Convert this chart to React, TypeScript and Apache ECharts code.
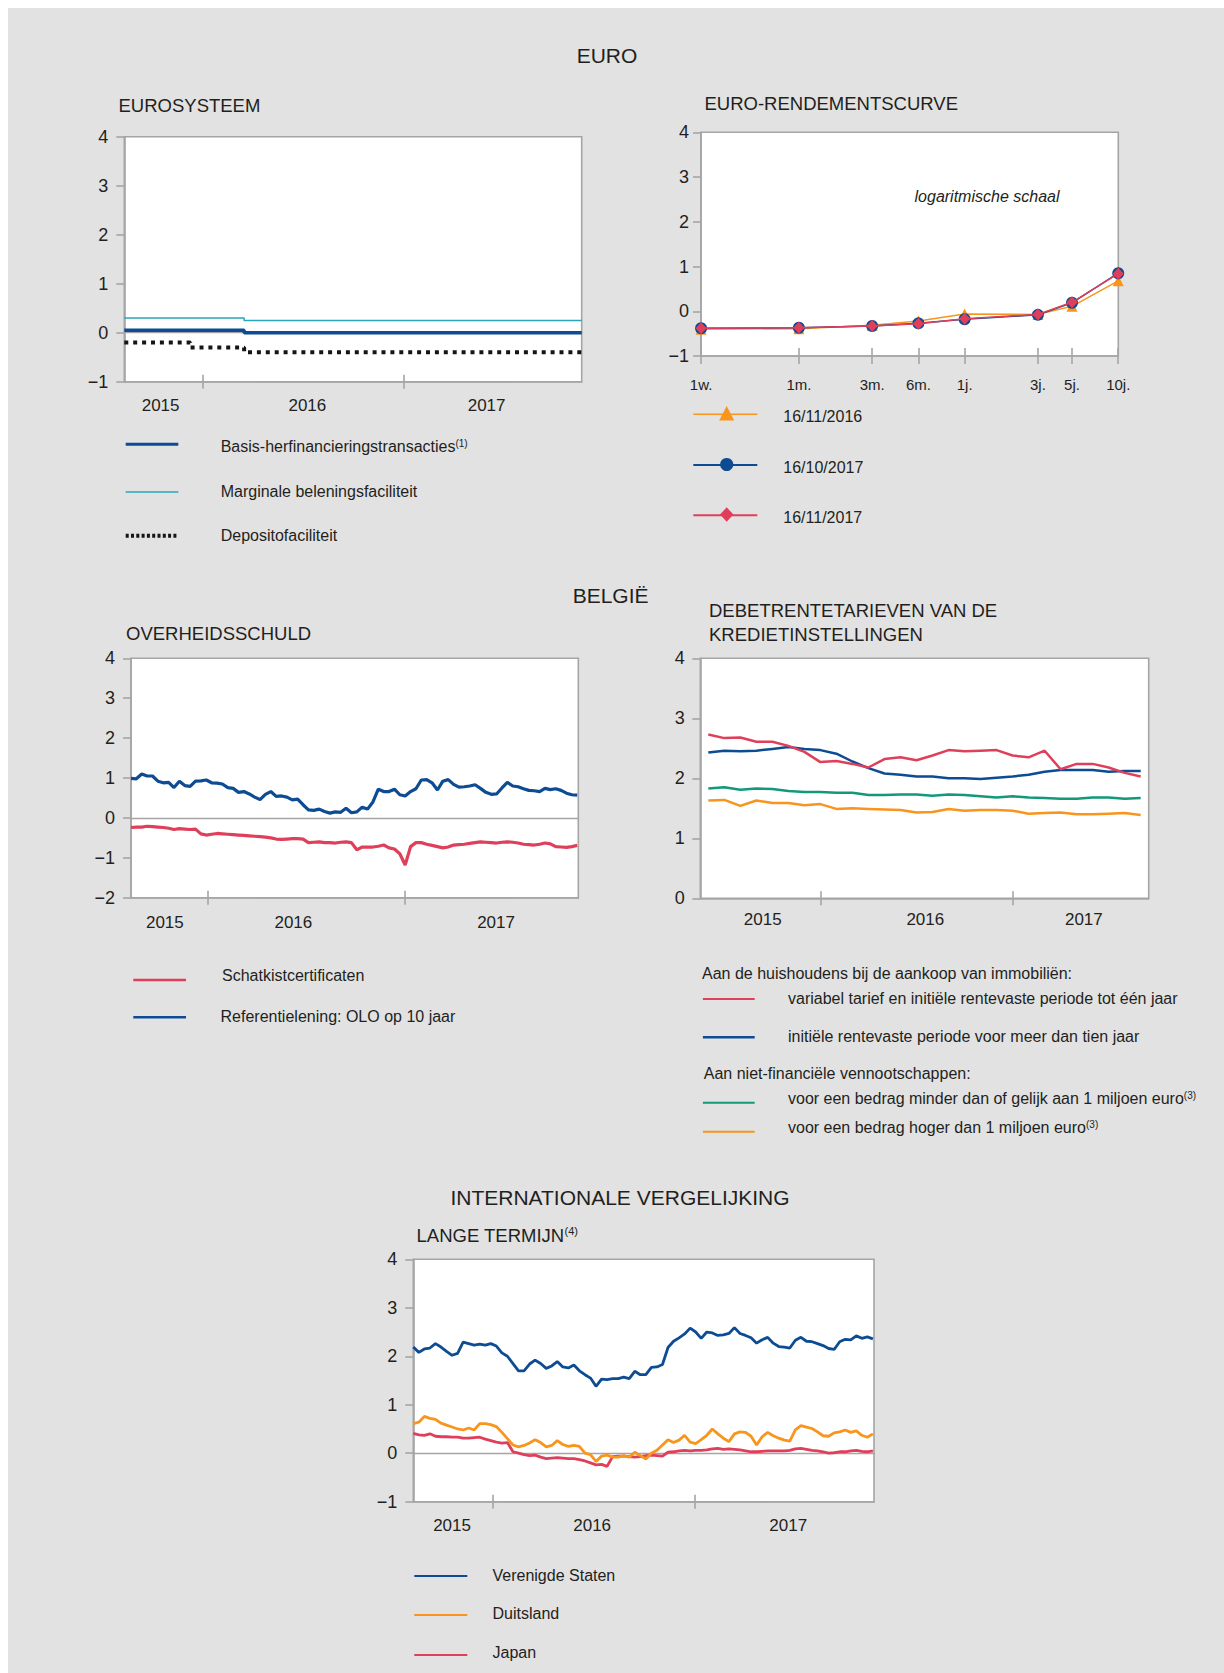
import React, { useEffect, useRef } from 'react';
import * as echarts from 'echarts';

const FONT = '"Liberation Sans", Arial, Helvetica, sans-serif';
const INK = '#231f20';
const FRAME = '#a5a5a5';
const BLUE = '#0d4b93';
const TEAL = '#2aa6b8';
const RED = '#df3f5a';
const ORANGE = '#f7951d';
const GREEN = '#13987a';
const DOTS = '#151515';

// ---------- time frame of the daily panels ----------
const RANGE_START = '2015-08-11';
const RANGE_END = '2017-11-20';
const YEAR_STARTS = ['2016-01-01', '2017-01-01'];
const SAMPLE_STEP_DAYS = 10; // daily series read every 10 days from RANGE_START

// ---------- EUROSYSTEEM (policy rate change dates) ----------
const mroSteps: [string, number][] = [['2015-08-11', 0.05], ['2016-03-16', 0.0], ['2017-11-20', 0.0]];
const marginalSteps: [string, number][] = [['2015-08-11', 0.3], ['2016-03-16', 0.25], ['2017-11-20', 0.25]];
const depositSteps: [string, number][] = [['2015-08-11', -0.2], ['2015-12-09', -0.3], ['2016-03-16', -0.4], ['2017-11-20', -0.4]];

// ---------- EURO-RENDEMENTSCURVE ----------
const maturityLabels = ['1w.', '1m.', '3m.', '6m.', '1j.', '3j.', '5j.', '10j.'];
const maturityYears = [1 / 52, 1 / 12, 0.25, 0.5, 1, 3, 5, 10];
const curve20161116 = [-0.4, -0.39, -0.31, -0.22, -0.06, -0.07, 0.11, 0.68];
const curve20171016 = [-0.38, -0.37, -0.33, -0.27, -0.18, -0.08, 0.19, 0.85];
const curve20171116 = [-0.38, -0.37, -0.33, -0.28, -0.17, -0.07, 0.2, 0.84];

// ---------- OVERHEIDSSCHULD ----------
const schatkist = [
  -0.24, -0.23, -0.23, -0.21, -0.22, -0.23, -0.24, -0.26, -0.29, -0.27,
  -0.28, -0.29, -0.28, -0.4, -0.43, -0.41, -0.39, -0.4, -0.41, -0.42,
  -0.43, -0.44, -0.45, -0.46, -0.47, -0.48, -0.5, -0.53, -0.54, -0.53,
  -0.52, -0.52, -0.53, -0.62, -0.61, -0.6, -0.62, -0.62, -0.63, -0.61,
  -0.6, -0.62, -0.8, -0.73, -0.73, -0.73, -0.71, -0.68, -0.75, -0.78,
  -0.9, -1.18, -0.72, -0.62, -0.62, -0.66, -0.69, -0.72, -0.75, -0.73,
  -0.68, -0.67, -0.66, -0.64, -0.62, -0.6, -0.61, -0.62, -0.63, -0.61,
  -0.6, -0.61, -0.63, -0.66, -0.67, -0.68, -0.66, -0.63, -0.65, -0.72,
  -0.73, -0.74, -0.72, -0.69,
];
const olo10 = [
  0.99, 0.98, 1.1, 1.05, 1.05, 0.92, 0.88, 0.89, 0.76, 0.92,
  0.81, 0.79, 0.92, 0.93, 0.95, 0.88, 0.87, 0.85, 0.76, 0.74,
  0.64, 0.66, 0.6, 0.52, 0.46, 0.59, 0.66, 0.54, 0.55, 0.52,
  0.45, 0.47, 0.33, 0.2, 0.19, 0.22, 0.16, 0.12, 0.15, 0.14,
  0.24, 0.13, 0.15, 0.27, 0.22, 0.4, 0.72, 0.66, 0.66, 0.72,
  0.58, 0.55, 0.66, 0.73, 0.95, 0.96, 0.88, 0.7, 0.92, 0.96,
  0.84, 0.77, 0.78, 0.8, 0.83, 0.74, 0.64, 0.59, 0.6, 0.75,
  0.89, 0.8, 0.78, 0.73, 0.69, 0.68, 0.66, 0.74, 0.71, 0.73,
  0.69, 0.62, 0.58, 0.57,
];

// ---------- DEBETRENTETARIEVEN (monthly from June 2015) ----------
const MONTH_START = '2015-06';
const variabelTarief = [2.73, 2.67, 2.68, 2.61, 2.61, 2.54, 2.44, 2.27, 2.29, 2.24, 2.18, 2.32, 2.35, 2.3, 2.38, 2.47, 2.45, 2.46, 2.47, 2.38, 2.35, 2.46, 2.15, 2.24, 2.24, 2.18, 2.09, 2.03];
const vastTienJaar = [2.43, 2.46, 2.45, 2.46, 2.49, 2.52, 2.49, 2.47, 2.41, 2.28, 2.17, 2.08, 2.06, 2.03, 2.03, 2.0, 2.0, 1.99, 2.01, 2.03, 2.06, 2.11, 2.14, 2.14, 2.14, 2.11, 2.12, 2.12];
const kleinBedrag = [1.83, 1.85, 1.81, 1.83, 1.82, 1.79, 1.77, 1.77, 1.76, 1.76, 1.72, 1.72, 1.73, 1.73, 1.71, 1.73, 1.72, 1.7, 1.68, 1.7, 1.68, 1.67, 1.66, 1.66, 1.68, 1.68, 1.66, 1.67];
const grootBedrag = [1.63, 1.64, 1.54, 1.63, 1.59, 1.59, 1.55, 1.57, 1.49, 1.5, 1.49, 1.48, 1.47, 1.43, 1.44, 1.49, 1.46, 1.47, 1.47, 1.46, 1.41, 1.42, 1.43, 1.4, 1.4, 1.41, 1.42, 1.39];

// ---------- LANGE TERMIJN ----------
const verenigdeStaten = [
  2.19, 2.08, 2.15, 2.17, 2.26, 2.19, 2.1, 2.02, 2.06, 2.29,
  2.26, 2.23, 2.25, 2.23, 2.26, 2.21, 2.07, 2.0, 1.85, 1.7,
  1.7, 1.84, 1.92, 1.85, 1.75, 1.8, 1.89, 1.78, 1.76, 1.82,
  1.7, 1.62, 1.55, 1.38, 1.53, 1.52, 1.54, 1.54, 1.57, 1.54,
  1.69, 1.62, 1.62, 1.77, 1.78, 1.83, 2.18, 2.31, 2.38, 2.46,
  2.58, 2.5, 2.37, 2.5, 2.48, 2.43, 2.44, 2.47, 2.59, 2.47,
  2.43, 2.38, 2.27, 2.34, 2.39, 2.27, 2.2, 2.19, 2.17, 2.33,
  2.39, 2.31, 2.3, 2.26, 2.22, 2.16, 2.14, 2.3, 2.35, 2.34,
  2.42, 2.37, 2.4, 2.36,
];
const duitsland = [
  0.61, 0.64, 0.76, 0.72, 0.7, 0.62, 0.58, 0.54, 0.5, 0.48,
  0.52, 0.48, 0.61, 0.61, 0.59, 0.55, 0.43, 0.3, 0.17, 0.13,
  0.16, 0.21, 0.28, 0.22, 0.13, 0.16, 0.26, 0.18, 0.14, 0.16,
  0.14, 0.0, -0.03, -0.17, -0.06, -0.04, -0.08, -0.08, -0.05, -0.08,
  0.02, -0.05, -0.12, 0.0, 0.06, 0.17, 0.28, 0.22, 0.27, 0.37,
  0.23, 0.2, 0.28, 0.37, 0.5, 0.4, 0.31, 0.24, 0.4, 0.44,
  0.43, 0.35, 0.17, 0.34, 0.43, 0.36, 0.31, 0.27, 0.25, 0.48,
  0.57, 0.54, 0.51, 0.44, 0.36, 0.35, 0.42, 0.44, 0.48, 0.43,
  0.46, 0.37, 0.33, 0.4,
];
const japan = [
  0.41, 0.38, 0.37, 0.4, 0.35, 0.34, 0.34, 0.33, 0.33, 0.31,
  0.31, 0.32, 0.33, 0.29, 0.26, 0.23, 0.21, 0.22, 0.03, 0.0,
  -0.03, -0.05, -0.04, -0.08, -0.11, -0.1, -0.09, -0.1, -0.11, -0.11,
  -0.13, -0.16, -0.2, -0.24, -0.23, -0.27, -0.07, -0.06, -0.06, -0.07,
  -0.08, -0.07, -0.05, -0.04, -0.05, -0.06, 0.02, 0.03, 0.05, 0.06,
  0.05, 0.06, 0.06, 0.07, 0.09, 0.1, 0.08, 0.09, 0.08, 0.07,
  0.05, 0.03, 0.03, 0.04, 0.05, 0.05, 0.05, 0.05, 0.06, 0.09,
  0.1, 0.08, 0.06, 0.05, 0.03, 0.0, 0.01, 0.03, 0.03, 0.05,
  0.06, 0.04, 0.03, 0.05,
];

// axis label anchors (days since 1 Jan 2015 / month index)
const eurosysteemYearLabelDays = [288, 555, 881];
const overheidYearLabelDays = [285, 524, 901];
const langeYearLabelDays = [292, 545, 899];
const debetYearLabelMonths = [3.4, 13.55, 23.45];

// ---------- helpers ----------
const EPOCH = Date.UTC(2015, 0, 1);
const dayOf = (iso: string) =>
  Math.round((Date.UTC(+iso.slice(0, 4), +iso.slice(5, 7) - 1, +iso.slice(8, 10)) - EPOCH) / 86400000);
const DAY_MIN = dayOf(RANGE_START);
const DAY_MAX = dayOf(RANGE_END);
const yearTickDays = YEAR_STARTS.map(dayOf);
const yearOfDay = (v: number) => String(new Date(EPOCH + v * 86400000).getUTCFullYear());
const sampled = (vals: number[]) => vals.map((v, i) => [DAY_MIN + i * SAMPLE_STEP_DAYS, v]);
const steps = (s: [string, number][]) => s.map(([d, v]) => [dayOf(d), v]);
const mStartY = +MONTH_START.slice(0, 4);
const mStartM = +MONTH_START.slice(5, 7);
const monthIndex = (ym: string) => (+ym.slice(0, 4) - mStartY) * 12 + (+ym.slice(5, 7) - mStartM);
const monthlyTicks = YEAR_STARTS.map((d) => monthIndex(d.slice(0, 7)));
const yearOfMonth = (v: number) => String(mStartY + Math.floor((v + mStartM - 1) / 12));
const monthly = (vals: number[]) => vals.map((v, i) => [i, v]);
const maturityLabel = (v: number) => {
  let best = 0;
  maturityYears.forEach((m, i) => {
    if (Math.abs(Math.log(m) - Math.log(v)) < Math.abs(Math.log(maturityYears[best]) - Math.log(v))) best = i;
  });
  return maturityLabels[best];
};
const fmtY = (v: number) => (v < 0 ? '\u2212' + Math.abs(v) : String(v));
const LOG_MIN = maturityYears[0] * 0.999;
const LOG_MAX = maturityYears[maturityYears.length - 1] * 1.001;

const OX = 8;
const OY = 8;
const px = (x: number) => x - OX;
const py = (y: number) => y - OY;

const axisGrey = { color: FRAME, width: 1.6 };

function gridAt(left: number, top: number, right: number, bottom: number) {
  return {
    left: px(left), top: py(top), width: right - left, height: bottom - top,
    show: true, backgroundColor: '#ffffff', borderColor: FRAME, borderWidth: 1.6,
    containLabel: false, outerBoundsMode: 'none',
  };
}

function yAx(gridIndex: number, min: number, max: number, margin: number) {
  return {
    type: 'value', gridIndex, min, max, interval: 1, position: 'left',
    axisLine: { show: true, onZero: false, lineStyle: axisGrey },
    axisTick: { show: true, inside: false, length: 8, lineStyle: axisGrey },
    axisLabel: { margin, color: INK, fontSize: 18, fontFamily: FONT, formatter: fmtY },
    splitLine: { show: false },
  };
}

function dayXAxes(gridIndex: number, labelDays: number[], margin: number) {
  const base = { type: 'value', gridIndex, min: DAY_MIN, max: DAY_MAX, splitLine: { show: false } };
  return [
    {
      ...base, position: 'bottom',
      axisLine: { show: true, onZero: false, lineStyle: axisGrey },
      axisTick: { show: true, inside: false, length: 7, customValues: yearTickDays, lineStyle: axisGrey },
      axisLabel: { show: true, customValues: labelDays, formatter: yearOfDay, margin, color: INK, fontSize: 17, fontFamily: FONT },
    },
    {
      ...base, position: 'bottom',
      axisLine: { show: false, onZero: false },
      axisTick: { show: true, inside: true, length: 7, customValues: yearTickDays, lineStyle: axisGrey },
      axisLabel: { show: false },
    },
    {
      ...base,
      axisLine: { show: true, onZero: true, lineStyle: { color: FRAME, width: 1.4 } },
      axisTick: { show: false },
      axisLabel: { show: false },
    },
  ];
}

function txt(x: number, y: number, text: string, size: number, extra: any = {}) {
  return {
    type: 'text', x: px(x), y: py(y), silent: true, z: 100,
    style: {
      text, fontSize: size, fontFamily: FONT, fill: INK,
      align: 'left', verticalAlign: 'middle', textAlign: 'left', textVerticalAlign: 'middle', ...extra,
    },
  };
}

function supTxt(x: number, y: number, main: string, sup: string, size: number) {
  return {
    type: 'text', x: px(x), y: py(y), silent: true, z: 100,
    style: {
      text: `{m|${main}}{s|${sup}}`, fontSize: size, fontFamily: FONT, fill: INK,
      align: 'left', verticalAlign: 'middle', textAlign: 'left', textVerticalAlign: 'middle',
      rich: {
        m: { fontSize: size, fontFamily: FONT, fill: INK, verticalAlign: 'bottom' },
        s: { fontSize: Math.round(size * 0.6), fontFamily: FONT, fill: INK, verticalAlign: 'top' },
      },
    },
  };
}

function lgLine(x1: number, x2: number, y: number, color: string, width: number, dash?: number[]) {
  return {
    type: 'line', silent: true, z: 100,
    shape: { x1: px(x1), y1: py(y), x2: px(x2), y2: py(y) },
    style: { stroke: color, lineWidth: width, lineDash: dash || null },
  };
}

function buildOption(): any {
  const xAxis: any[] = [
    ...dayXAxes(0, eurosysteemYearLabelDays, 15), // 0,1,2
    {
      type: 'log', gridIndex: 1, logBase: 10, min: LOG_MIN, max: LOG_MAX,
      position: 'bottom', splitLine: { show: false },
      axisLine: { show: true, onZero: false, lineStyle: axisGrey },
      axisTick: { show: true, inside: false, length: 8, customValues: maturityYears, lineStyle: axisGrey },
      axisLabel: { show: true, customValues: maturityYears, formatter: maturityLabel, margin: 21, color: INK, fontSize: 15, fontFamily: FONT },
      minorTick: { show: false }, minorSplitLine: { show: false },
    }, // 3
    {
      type: 'log', gridIndex: 1, logBase: 10, min: LOG_MIN, max: LOG_MAX,
      position: 'bottom', splitLine: { show: false },
      axisLine: { show: false, onZero: false },
      axisTick: { show: true, inside: true, length: 8, customValues: maturityYears, lineStyle: axisGrey },
      axisLabel: { show: false },
    }, // 4
    ...dayXAxes(2, overheidYearLabelDays, 16), // 5,6,7
    {
      type: 'value', gridIndex: 3, min: -0.5, max: variabelTarief.length - 0.5, position: 'bottom',
      splitLine: { show: false },
      axisLine: { show: true, onZero: false, lineStyle: axisGrey },
      axisTick: { show: true, inside: false, length: 7, customValues: monthlyTicks, lineStyle: axisGrey },
      axisLabel: { show: true, customValues: debetYearLabelMonths, formatter: yearOfMonth, margin: 13, color: INK, fontSize: 17, fontFamily: FONT },
    }, // 8
    {
      type: 'value', gridIndex: 3, min: -0.5, max: variabelTarief.length - 0.5, position: 'bottom',
      splitLine: { show: false },
      axisLine: { show: false, onZero: false },
      axisTick: { show: true, inside: true, length: 7, customValues: monthlyTicks, lineStyle: axisGrey },
      axisLabel: { show: false },
    }, // 9
    ...dayXAxes(4, langeYearLabelDays, 15), // 10,11,12
  ];

  const yAxis: any[] = [yAx(0, -1, 4, 16), yAx(1, -1, 4, 12), yAx(2, -2, 4, 16), yAx(3, 0, 4, 15.5), yAx(4, -1, 4, 16)];

  const line = (x: number, y: number, data: any[], color: string, width: number, extra: any = {}) => ({
    type: 'line', xAxisIndex: x, yAxisIndex: y, data, symbol: 'none', silent: true,
    lineStyle: { color, width, ...(extra.lineStyle || {}) }, itemStyle: { color },
    ...Object.fromEntries(Object.entries(extra).filter(([k]) => k !== 'lineStyle')),
  });

  const series: any[] = [
    // Eurosysteem
    line(0, 0, steps(marginalSteps), TEAL, 1.5, { step: 'end', z: 3 }),
    line(0, 0, steps(mroSteps), BLUE, 3.5, { step: 'end', z: 4 }),
    line(0, 0, steps(depositSteps), DOTS, 4, { step: 'end', z: 4, lineStyle: { type: [4, 4.9], cap: 'butt' } }),
    // Rendementscurve
    {
      type: 'line', xAxisIndex: 3, yAxisIndex: 1, silent: true, z: 3,
      data: maturityYears.map((m, i) => [m, curve20161116[i]]),
      symbol: 'triangle', symbolSize: 11,
      lineStyle: { color: ORANGE, width: 1.5 }, itemStyle: { color: ORANGE },
    },
    {
      type: 'line', xAxisIndex: 3, yAxisIndex: 1, silent: true, z: 4,
      data: maturityYears.map((m, i) => [m, curve20171016[i]]),
      symbol: 'circle', symbolSize: 12,
      lineStyle: { color: BLUE, width: 1.5 }, itemStyle: { color: BLUE },
    },
    {
      type: 'line', xAxisIndex: 3, yAxisIndex: 1, silent: true, z: 5,
      data: maturityYears.map((m, i) => [m, curve20171116[i]]),
      symbol: 'diamond', symbolSize: [11, 12],
      lineStyle: { color: RED, width: 1.5 }, itemStyle: { color: RED },
    },
    // Overheidsschuld
    line(5, 2, sampled(schatkist), RED, 3.2),
    line(5, 2, sampled(olo10), BLUE, 3.2),
    // Debetrente
    line(8, 3, monthly(grootBedrag), ORANGE, 2.5),
    line(8, 3, monthly(kleinBedrag), GREEN, 2.5),
    line(8, 3, monthly(vastTienJaar), BLUE, 2.5),
    line(8, 3, monthly(variabelTarief), RED, 2.5),
    // Lange termijn
    line(10, 4, sampled(japan), RED, 2.8),
    line(10, 4, sampled(duitsland), ORANGE, 2.8),
    line(10, 4, sampled(verenigdeStaten), BLUE, 2.8),
  ];

  const graphic: any[] = [
    // section headers
    txt(607, 55.8, 'EURO', 21, { align: 'center', textAlign: 'center' }),
    txt(610.6, 595.8, 'BELGIË', 21, { align: 'center', textAlign: 'center' }),
    txt(620, 1197.5, 'INTERNATIONALE VERGELIJKING', 21, { align: 'center', textAlign: 'center' }),
    // panel titles
    txt(118.5, 105, 'EUROSYSTEEM', 18.5),
    txt(704.5, 103.7, 'EURO-RENDEMENTSCURVE', 18.5),
    txt(126, 633.3, 'OVERHEIDSSCHULD', 18.5),
    txt(709, 610.5, 'DEBETRENTETARIEVEN VAN DE', 18.5),
    txt(709, 634.2, 'KREDIETINSTELLINGEN', 18.5),
    supTxt(416.5, 1235.3, 'LANGE TERMIJN', '(4)', 18.5),
    txt(987, 196.7, 'logaritmische schaal', 16, { align: 'center', textAlign: 'center', fontStyle: 'italic' }),

    // legend Eurosysteem
    lgLine(125.7, 178.3, 444.3, BLUE, 3),
    supTxt(220.7, 446, 'Basis-herfinancieringstransacties', '(1)', 16),
    lgLine(125.7, 178.3, 492, TEAL, 1.5),
    txt(220.7, 491.8, 'Marginale beleningsfaciliteit', 16),
    lgLine(125.7, 178.3, 535.7, DOTS, 4, [3, 2.3]),
    txt(220.7, 535, 'Depositofaciliteit', 16),

    // legend rendementscurve
    lgLine(693.3, 757.3, 414.3, ORANGE, 1.5),
    { type: 'polygon', silent: true, z: 101, shape: { points: [[px(726.7), py(406)], [px(734.2), py(420.5)], [px(719.2), py(420.5)]] }, style: { fill: ORANGE } },
    txt(783.3, 416.7, '16/11/2016', 16),
    lgLine(693.3, 757.3, 465, BLUE, 2),
    { type: 'circle', silent: true, z: 101, shape: { cx: px(726.7), cy: py(464.5), r: 6.6 }, style: { fill: BLUE } },
    txt(783.3, 467.3, '16/10/2017', 16),
    lgLine(693.3, 757.3, 515.3, RED, 2),
    { type: 'polygon', silent: true, z: 101, shape: { points: [[px(726.7), py(507.3)], [px(733.4), py(514.5)], [px(726.7), py(521.7)], [px(720), py(514.5)]] }, style: { fill: RED } },
    txt(783.3, 517, '16/11/2017', 16),

    // legend overheidsschuld
    lgLine(133.3, 186, 980, RED, 2.5),
    txt(222, 975.5, 'Schatkistcertificaten', 16),
    lgLine(133.3, 186, 1017.3, BLUE, 2.5),
    txt(220.5, 1016.7, 'Referentielening: OLO op 10 jaar', 16),

    // legend debetrente
    txt(702, 973.3, 'Aan de huishoudens bij de aankoop van immobiliën:', 16),
    lgLine(702.9, 754.7, 999, RED, 2),
    txt(788, 998, 'variabel tarief en initiële rentevaste periode tot één jaar', 16),
    lgLine(702.9, 754.7, 1037.3, BLUE, 2.5),
    txt(788, 1036.7, 'initiële rentevaste periode voor meer dan tien jaar', 16),
    txt(703.8, 1073.3, 'Aan niet-financiële vennootschappen:', 16),
    lgLine(702.9, 754.7, 1102.7, GREEN, 2),
    supTxt(788, 1098.3, 'voor een bedrag minder dan of gelijk aan 1 miljoen euro', '(3)', 16),
    lgLine(702.9, 754.7, 1131.7, ORANGE, 2),
    supTxt(788, 1127.5, 'voor een bedrag hoger dan 1 miljoen euro', '(3)', 16),

    // legend lange termijn
    lgLine(414.3, 467.3, 1576, BLUE, 2),
    txt(492.5, 1575.5, 'Verenigde Staten', 16),
    lgLine(414.3, 467.3, 1615, ORANGE, 2),
    txt(492.5, 1613.5, 'Duitsland', 16),
    lgLine(414.3, 467.3, 1655, RED, 2),
    txt(492.5, 1652.8, 'Japan', 16),
  ];

  return {
    animation: false,
    backgroundColor: '#e2e2e2',
    textStyle: { fontFamily: FONT },
    grid: [
      gridAt(124.3, 136.7, 581.7, 381.7),
      gridAt(701, 132.3, 1118.3, 356),
      gridAt(131, 658.3, 578.3, 897.7),
      gridAt(700.3, 658.3, 1148.7, 898.3),
      gridAt(413.3, 1259.3, 874, 1501.7),
    ],
    xAxis,
    yAxis,
    series,
    graphic,
  };
}

export default function App() {
  const ref = useRef<HTMLDivElement>(null);
  useEffect(() => {
    if (!ref.current) return;
    const chart = echarts.init(ref.current, null, { renderer: 'svg' });
    chart.setOption(buildOption());
    return () => chart.dispose();
  }, []);
  return <div ref={ref} style={{ position: 'absolute', left: 8, top: 8, width: 1216, height: 1665 }} />;
}
